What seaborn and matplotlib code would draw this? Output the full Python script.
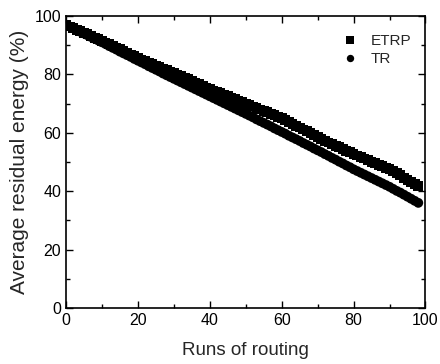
import matplotlib
matplotlib.use("Agg")
import matplotlib.pyplot as plt
import pandas as pd
import seaborn as sns
from matplotlib.ticker import MultipleLocator

runs = list(range(0, 99))

etrp = [97.0, 96.4, 95.9, 95.3, 94.8, 94.2, 93.7, 93.1, 92.6, 92.0, 91.5,
        90.9, 90.3, 89.8, 89.2, 88.6, 88.0, 87.4, 86.8, 86.2, 85.6,
        85.1, 84.6, 84.1, 83.6, 83.0, 82.5, 82.0, 81.5, 81.0, 80.5,
        79.9, 79.4, 78.8, 78.3, 77.7, 77.2, 76.6, 76.1, 75.5, 75.0,
        74.5, 74.0, 73.5, 73.0, 72.5, 72.0, 71.5, 71.0, 70.5, 70.0,
        69.5, 69.0, 68.5, 68.0, 67.5, 67.0, 66.5, 66.0, 65.5, 65.0,
        64.4, 63.7, 63.1, 62.4, 61.8, 61.1, 60.5, 59.8, 59.2, 58.5,
        57.9, 57.3, 56.7, 56.2, 55.6, 55.0, 54.4, 53.8, 53.3, 52.7,
        52.2, 51.7, 51.2, 50.6, 50.1, 49.6, 49.1, 48.5, 48.0, 47.5,
        46.8, 46.1, 45.4, 44.6, 43.9, 43.2, 42.5, 41.7]

tr = [97.0, 96.4, 95.8, 95.2, 94.6, 94.0, 93.4, 92.8, 92.2, 91.6, 91.0,
      90.4, 89.7, 89.1, 88.5, 87.8, 87.2, 86.6, 86.0, 85.3, 84.7,
      84.1, 83.5, 82.8, 82.2, 81.6, 81.0, 80.3, 79.7, 79.1, 78.5,
      77.9, 77.3, 76.7, 76.1, 75.5, 74.9, 74.3, 73.7, 73.1, 72.5,
      71.9, 71.3, 70.7, 70.1, 69.5, 68.9, 68.3, 67.7, 67.1, 66.5,
      65.9, 65.3, 64.6, 64.0, 63.4, 62.8, 62.2, 61.5, 60.9, 60.3,
      59.7, 59.0, 58.4, 57.8, 57.2, 56.5, 55.9, 55.3, 54.6, 54.0,
      53.4, 52.7, 52.1, 51.4, 50.8, 50.1, 49.5, 48.8, 48.2, 47.5,
      46.9, 46.3, 45.7, 45.1, 44.5, 43.9, 43.3, 42.7, 42.1, 41.5,
      40.8, 40.1, 39.5, 38.8, 38.1, 37.4, 36.7, 36.0]

df = pd.concat([
    pd.DataFrame({"run": runs, "energy": etrp, "method": "ETRP"}),
    pd.DataFrame({"run": runs, "energy": tr, "method": "TR"}),
])

sns.set_style("ticks")
plt.rcParams["font.family"] = ["Liberation Sans", "DejaVu Sans"]

fig = plt.figure(figsize=(4.4, 3.64), dpi=100)
ax = fig.add_axes([0.15, 0.154, 0.817, 0.802])

sns.scatterplot(data=df, x="run", y="energy", style="method",
                markers={"ETRP": "s", "TR": "o"}, color="black",
                s=50, linewidth=0, ax=ax)

ax.set_xlim(0, 100)
ax.set_ylim(0, 100)
ax.xaxis.set_major_locator(MultipleLocator(20))
ax.xaxis.set_minor_locator(MultipleLocator(10))
ax.yaxis.set_major_locator(MultipleLocator(20))
ax.yaxis.set_minor_locator(MultipleLocator(10))
ax.tick_params(which="both", direction="in", top=True, right=True,
               labelsize=11.5, width=1, colors="black")
ax.tick_params(which="major", length=5)
ax.tick_params(which="minor", length=3)
for sp in ax.spines.values():
    sp.set_linewidth(1.2)
    sp.set_color("black")

ax.set_xlabel("Runs of routing", fontsize=13.5, labelpad=10)
ax.set_ylabel("Average residual energy (%)", fontsize=15, labelpad=4)

ax.legend(loc="upper right", bbox_to_anchor=(1.0, 0.985), frameon=False,
          fontsize=11, title=None, handletextpad=0.4, labelspacing=0.25,
          markerscale=0.75)

fig.savefig("out.png", dpi=100)
